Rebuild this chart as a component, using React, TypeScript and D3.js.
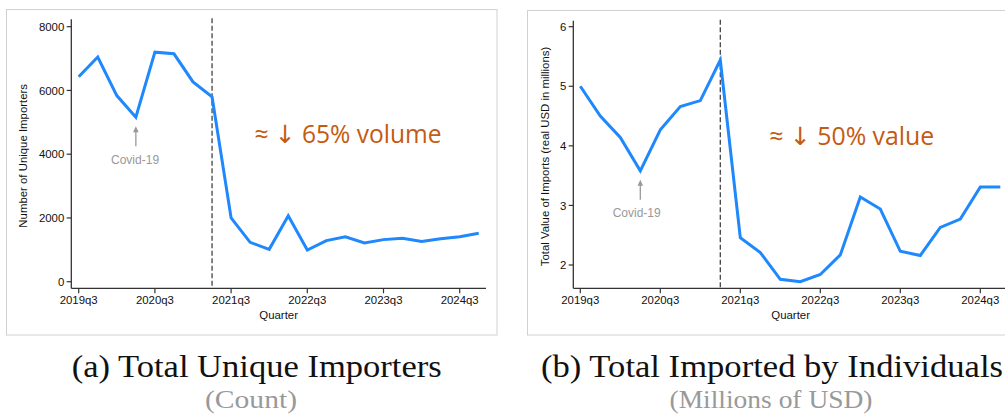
import React from "react";
import * as d3 from "d3";

// Quarters from 2019q3 through 2025q1
const quarters = [
  "2019q3", "2019q4", "2020q1", "2020q2", "2020q3", "2020q4", "2021q1", "2021q2",
  "2021q3", "2021q4", "2022q1", "2022q2", "2022q3", "2022q4", "2023q1", "2023q2",
  "2023q3", "2023q4", "2024q1", "2024q2", "2024q3", "2024q4", "2025q1",
].slice(0, 22);

const xTickLabels = ["2019q3", "2020q3", "2021q3", "2022q3", "2023q3", "2024q3"];

const uniqueImporters = [
  6430, 7050, 5840, 5160, 7200, 7150, 6270, 5800,
  2000, 1235, 1015, 2070, 995, 1290, 1410, 1215,
  1320, 1360, 1265, 1350, 1410, 1517,
];

const importValue = [
  5.0, 4.5, 4.14, 3.58, 4.27, 4.66, 4.76, 5.44,
  2.46, 2.21, 1.76, 1.72, 1.84, 2.17, 3.14, 2.94,
  2.23, 2.16, 2.63, 2.77, 3.31, 3.31,
];

const leftYTicks = [0, 2000, 4000, 6000, 8000];
const rightYTicks = [2, 3, 4, 5, 6];

const policyQuarter = "2021q2";
const covidQuarter = "2020q2";

const BLUE = "#1f88fc";
const ORANGE = "#c55a11";
const AXIS = "#333";
const GREY = "#999";
const SANS = "'Liberation Sans', Arial, Helvetica, sans-serif";
const SERIF = "'Liberation Serif', 'Times New Roman', serif";
const NOTE_FONT = "'Open Sans', 'DejaVu Sans', sans-serif";

type PanelProps = {
  values: number[];
  yTicks: number[];
  yDomain: [number, number];
  yRange: [number, number];
  xStart: number;
  xStep: number;
  axisLeft: number;
  axisRight: number;
  axisBottom: number;
  axisTop: number;
  yLabel: string;
  yLabelX: number;
  note: string;
  noteX: number;
  noteY: number;
  noteLen: number;
  covidDx: number;
};

function Panel(p: PanelProps) {
  const x = d3
    .scalePoint<string>()
    .domain(quarters)
    .range([p.xStart, p.xStart + p.xStep * (quarters.length - 1)]);
  const y = d3.scaleLinear().domain(p.yDomain).range(p.yRange);
  const line = d3
    .line<number>()
    .x((_, i) => x(quarters[i]) as number)
    .y((v) => y(v));

  const cIdx = quarters.indexOf(covidQuarter);
  const cx = x(covidQuarter) as number;
  const tipY = y(p.values[cIdx]) + 9;
  const tailY = tipY + 20;
  const px = x(policyQuarter) as number;
  const yMid = (p.axisTop + p.axisBottom) / 2 + 2;

  return (
    <g>
      {/* axes */}
      <line x1={p.axisLeft} x2={p.axisLeft} y1={p.axisTop} y2={p.axisBottom} stroke={AXIS} strokeWidth={1.3} />
      <line x1={p.axisLeft} x2={p.axisRight} y1={p.axisBottom} y2={p.axisBottom} stroke={AXIS} strokeWidth={1.3} />
      {p.yTicks.map((t) => (
        <g key={t}>
          <line x1={p.axisLeft - 4.6} x2={p.axisLeft} y1={y(t)} y2={y(t)} stroke={AXIS} strokeWidth={1.2} />
          <text x={p.axisLeft - 7} y={y(t)} dy="0.36em" textAnchor="end" fontFamily={SANS} fontSize={11.4} fill="#111">
            {t}
          </text>
        </g>
      ))}
      {xTickLabels.map((q) => (
        <g key={q}>
          <line x1={x(q)} x2={x(q)} y1={p.axisBottom} y2={p.axisBottom + 5} stroke={AXIS} strokeWidth={1.2} />
          <text x={x(q)} y={p.axisBottom + 15.5} textAnchor="middle" fontFamily={SANS} fontSize={11.4} fill="#111">
            {q}
          </text>
        </g>
      ))}
      <text
        x={(p.axisLeft + p.axisRight) / 2}
        y={p.axisBottom + 31}
        textAnchor="middle"
        fontFamily={SANS}
        fontSize={11.4}
        fill="#111"
      >
        Quarter
      </text>
      <text
        transform={`translate(${p.yLabelX},${yMid}) rotate(-90)`}
        textAnchor="middle"
        fontFamily={SANS}
        fontSize={11.4}
        fill="#111"
      >
        {p.yLabel}
      </text>

      {/* policy change marker */}
      <line x1={px} x2={px} y1={p.axisTop - 1} y2={p.axisBottom} stroke="#444" strokeWidth={1.3} strokeDasharray="5,2.5" />

      {/* series */}
      <path d={line(p.values) || ""} fill="none" stroke={BLUE} strokeWidth={3} strokeLinejoin="miter" />

      {/* Covid-19 callout */}
      <line x1={cx} x2={cx} y1={tipY + 4} y2={tailY} stroke={GREY} strokeWidth={1.3} />
      <path d={`M${cx},${tipY} L${cx - 2.8},${tipY + 6} L${cx + 2.8},${tipY + 6} Z`} fill={GREY} />
      <text x={cx + p.covidDx} y={tailY + 17.5} textAnchor="middle" fontFamily={SANS} fontSize={12} fill={GREY}>
        Covid-19
      </text>

      {/* change annotation */}
      <text
        x={p.noteX}
        y={p.noteY}
        fontFamily={NOTE_FONT}
        fontSize={25}
        fill={ORANGE}
        textLength={p.noteLen}
        lengthAdjust="spacingAndGlyphs"
      >
        {p.note}
      </text>
    </g>
  );
}

export default function App() {
  return (
    <div style={{ position: "absolute", left: 0, top: 0 }}>
      <svg width={1005} height={418} style={{ display: "block", background: "#fff" }}>
        {/* panel frames */}
        <rect x={6.5} y={9.5} width={490.5} height={325.5} fill="none" stroke="#d0d0d0" strokeWidth={1} />
        <rect x={527.5} y={10.5} width={490} height={324.5} fill="none" stroke="#d0d0d0" strokeWidth={1} />

        <Panel
          values={uniqueImporters}
          yTicks={leftYTicks}
          yDomain={[0, 8000]}
          yRange={[281.7, 26.7]}
          xStart={78.7}
          xStep={19.05}
          axisLeft={71.3}
          axisRight={486}
          axisBottom={288.3}
          axisTop={19.3}
          yLabel="Number of Unique Importers"
          yLabelX={26.8}
          note="≈ ↓ 65% volume"
          noteX={254.5}
          noteY={143.3}
          noteLen={187}
          covidDx={-0.8}
        />
        <Panel
          values={importValue}
          yTicks={rightYTicks}
          yDomain={[2, 6]}
          yRange={[265, 26.7]}
          xStart={580.3}
          xStep={20}
          axisLeft={573.3}
          axisRight={1008}
          axisBottom={288.3}
          axisTop={20.7}
          yLabel="Total Value of Imports (real USD in millions)"
          yLabelX={549}
          note="≈ ↓ 50% value"
          noteX={769.3}
          noteY={145}
          noteLen={165}
          covidDx={-3.6}
        />

        {/* captions */}
        <text x={256.7} y={377} textAnchor="middle" fontFamily={SERIF} fontSize={31} fill="#111" textLength={370} lengthAdjust="spacingAndGlyphs">
          (a) Total Unique Importers
        </text>
        <text x={251} y={408} textAnchor="middle" fontFamily={SERIF} fontSize={25} fill={GREY} textLength={92} lengthAdjust="spacingAndGlyphs">
          (Count)
        </text>
        <text x={772} y={377} textAnchor="middle" fontFamily={SERIF} fontSize={31} fill="#111" textLength={462} lengthAdjust="spacingAndGlyphs">
          (b) Total Imported by Individuals
        </text>
        <text x={771} y={408} textAnchor="middle" fontFamily={SERIF} fontSize={25} fill={GREY} textLength={203} lengthAdjust="spacingAndGlyphs">
          (Millions of USD)
        </text>
      </svg>
    </div>
  );
}
